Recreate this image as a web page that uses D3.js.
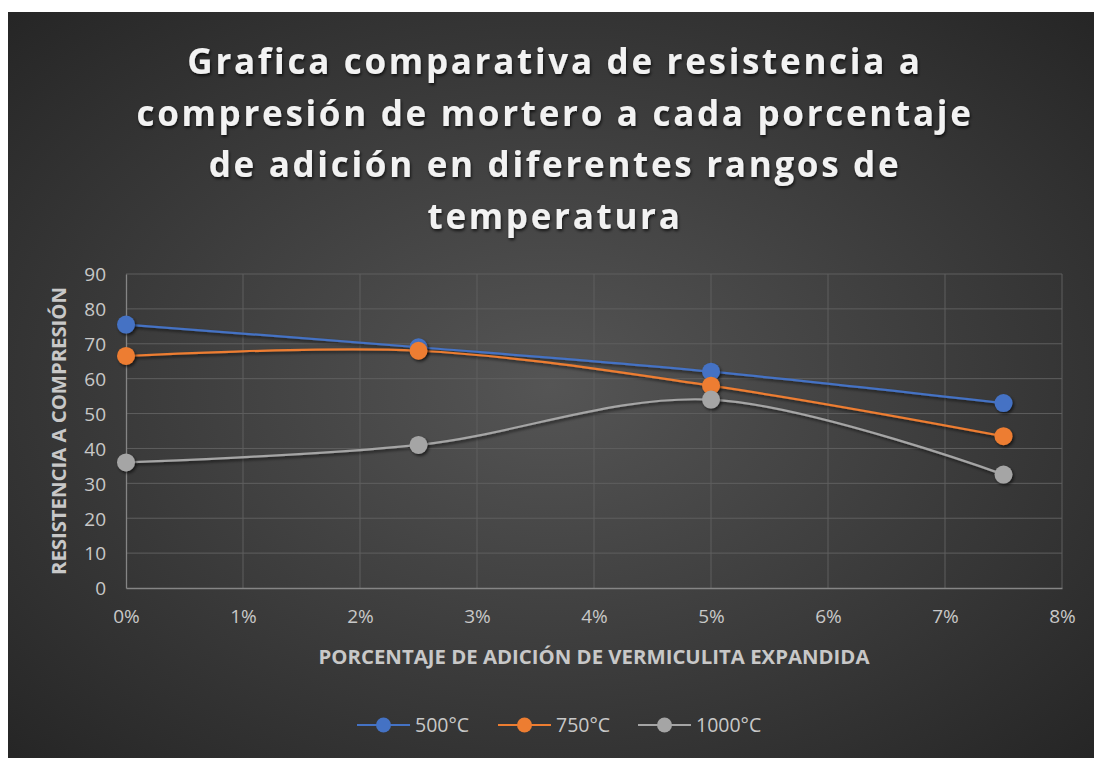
<!DOCTYPE html>
<html lang="es">
<head>
    <meta charset="UTF-8">
    <title>Grafica comparativa</title>
    <script src="https://cdnjs.cloudflare.com/ajax/libs/d3/7.8.5/d3.min.js"></script>
    <style>
        body { margin: 0; background: #fff; }
    </style>
</head>
<body>
<svg width="1094" height="758"></svg>
<script>
    // porcentaje de adicion
    const percents = [0, 0.025, 0.05, 0.075];
    const series500 = [75.5, 69, 62, 53];
    const series750 = [66.5, 68, 58, 43.5];
    const series1000 = [36, 41, 54, 32.5];
    const seriesNames = ['500°C', '750°C', '1000°C'];
    const seriesColors = ['#4472c4', '#ed7d31', '#a5a5a5'];
    const xTicks = [0, 0.01, 0.02, 0.03, 0.04, 0.05, 0.06, 0.07, 0.08];
    const yTicks = [0, 10, 20, 30, 40, 50, 60, 70, 80, 90];
    const titleLines = [
        'Grafica comparativa de resistencia a',
        'compresión de mortero a cada porcentaje',
        'de adición en diferentes rangos de',
        'temperatura'
    ];

    const allSeries = [series500, series750, series1000];
    const font = '"Open Sans", sans-serif';
    const svg = d3.select('svg');
    const defs = svg.append('defs');

    const grad = defs.append('radialGradient')
        .attr('id', 'bg')
        .attr('cx', '50%').attr('cy', '50%').attr('r', '70%');
    grad.append('stop').attr('offset', '0%').attr('stop-color', '#555555');
    grad.append('stop').attr('offset', '100%').attr('stop-color', '#262626');

    const shadow = defs.append('filter').attr('id', 'shadow')
        .attr('x', '-50%').attr('y', '-50%').attr('width', '200%').attr('height', '200%');
    shadow.append('feDropShadow')
        .attr('dx', 1.5).attr('dy', 2).attr('stdDeviation', 1.8)
        .attr('flood-color', '#000').attr('flood-opacity', 0.6);

    const tshadow = defs.append('filter').attr('id', 'tshadow');
    tshadow.append('feDropShadow')
        .attr('dx', 1).attr('dy', 2).attr('stdDeviation', 1.5)
        .attr('flood-color', '#000').attr('flood-opacity', 0.7);

    svg.append('rect')
        .attr('x', 8).attr('y', 12)
        .attr('width', 1086).attr('height', 746)
        .attr('fill', 'url(#bg)');

    // title
    svg.append('g').attr('filter', 'url(#tshadow)')
        .selectAll('text').data(titleLines).join('text')
        .attr('x', 555)
        .attr('y', (d, i) => 74 + i * 51.5)
        .attr('text-anchor', 'middle')
        .attr('font-family', font)
        .attr('font-weight', 'bold')
        .attr('font-size', '35px')
        .attr('letter-spacing', '2.7px')
        .attr('fill', '#f2f2f2')
        .text(d => d);

    const x = d3.scaleLinear().domain([0, 0.08]).range([126, 1062]);
    const y = d3.scaleLinear().domain([0, 90]).range([588, 274]);

    // grid
    const grid = svg.append('g');
    grid.selectAll('.hy').data(yTicks.slice(1)).join('line')
        .attr('x1', x(0)).attr('x2', x(0.08))
        .attr('y1', d => y(d)).attr('y2', d => y(d))
        .attr('stroke', '#5f5f5f').attr('stroke-width', 1);
    grid.selectAll('.vx').data(xTicks.slice(1)).join('line')
        .attr('x1', d => x(d)).attr('x2', d => x(d))
        .attr('y1', y(0)).attr('y2', y(90))
        .attr('stroke', '#5f5f5f').attr('stroke-width', 1);

    // axes
    const xAxis = svg.append('g')
        .attr('transform', `translate(0,${y(0)})`)
        .call(d3.axisBottom(x).tickValues(xTicks).tickSize(0).tickPadding(22)
            .tickFormat(d => Math.round(d * 100) + '%'));
    const yAxis = svg.append('g')
        .attr('transform', `translate(${x(0)},0)`)
        .call(d3.axisLeft(y).tickValues(yTicks).tickSize(0).tickPadding(20));
    [xAxis, yAxis].forEach(a => {
        a.select('.domain').attr('stroke', '#858585').attr('stroke-width', 1.3);
        a.selectAll('text')
            .attr('font-family', font)
            .attr('font-size', '19px')
            .attr('fill', '#c8c8c8');
    });
    yAxis.selectAll('text').attr('dy', '0.36em');

    svg.append('text')
        .attr('x', 594).attr('y', 664)
        .attr('text-anchor', 'middle')
        .attr('font-family', font)
        .attr('font-weight', 'bold')
        .attr('font-size', '19px')
        .attr('textLength', 551)
        .attr('lengthAdjust', 'spacingAndGlyphs')
        .attr('fill', '#c8c8c8')
        .text('PORCENTAJE DE ADICIÓN DE VERMICULITA EXPANDIDA');

    svg.append('text')
        .attr('transform', 'translate(66,431) rotate(-90)')
        .attr('text-anchor', 'middle')
        .attr('font-family', font)
        .attr('font-weight', 'bold')
        .attr('font-size', '19px')
        .attr('textLength', 288)
        .attr('lengthAdjust', 'spacingAndGlyphs')
        .attr('fill', '#c8c8c8')
        .text('RESISTENCIA A COMPRESIÓN');

    // lines
    const line = d3.line()
        .x((d, i) => x(percents[i]))
        .y(d => y(d))
        .curve(d3.curveCatmullRom.alpha(0.5));

    allSeries.forEach((s, k) => {
        svg.append('path')
            .datum(s)
            .attr('d', line)
            .attr('fill', 'none')
            .attr('stroke', seriesColors[k])
            .attr('stroke-width', 2.2)
            .attr('filter', 'url(#shadow)');
    });
    allSeries.forEach((s, k) => {
        svg.append('g').selectAll('circle').data(s).join('circle')
            .attr('cx', (d, i) => x(percents[i]))
            .attr('cy', d => y(d))
            .attr('r', 9)
            .attr('fill', seriesColors[k])
            .attr('filter', 'url(#shadow)');
    });

    // legend
    const legendX = [357, 498, 638];
    const legend = svg.append('g');
    seriesNames.forEach((name, k) => {
        const lx = legendX[k];
        legend.append('line')
            .attr('x1', lx).attr('x2', lx + 53)
            .attr('y1', 725).attr('y2', 725)
            .attr('stroke', seriesColors[k]).attr('stroke-width', 2.2);
        legend.append('circle')
            .attr('cx', lx + 26.5).attr('cy', 725).attr('r', 7.5)
            .attr('fill', seriesColors[k]);
        legend.append('text')
            .attr('x', lx + 58).attr('y', 725)
            .attr('dy', '0.35em')
            .attr('font-family', font)
            .attr('font-size', '19.5px')
            .attr('fill', '#c8c8c8')
            .text(name);
    });
</script>
</body>
</html>
